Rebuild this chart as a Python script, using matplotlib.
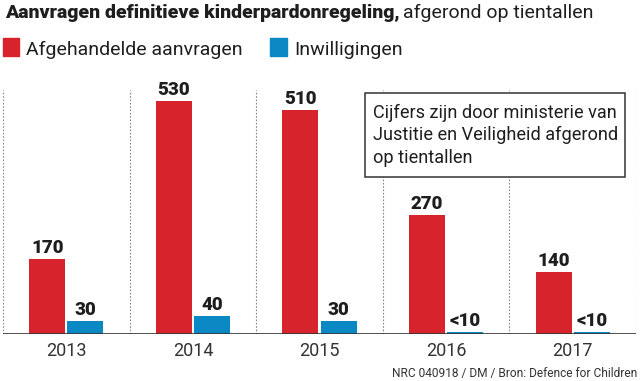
import numpy as np
import matplotlib.pyplot as plt
from matplotlib.patches import Rectangle

plt.rcParams['font.family'] = ['Roboto', 'DejaVu Sans']

years = ['2013', '2014', '2015', '2016', '2017']
afgehandeld = [170, 530, 510, 270, 140]
inwilligingen = [30, 40, 30, 5, 5]
label_red = ['170', '530', '510', '270', '140']
label_blue = ['30', '40', '30', '<10', '<10']

red = '#d7232b'
blue = '#0a88c4'
ink = '#1e1e1e'

W, H = 640, 381
fig = plt.figure(figsize=(6.4, 3.81), dpi=100)
ax = fig.add_axes([3 / W, 47 / H, 633 / W, 244 / H])


def fy(py):
    # pixel from top -> figure fraction
    return 1 - py / H


x = np.arange(len(years))
w = 0.285
gap = 0.016
ax.bar(x - w / 2 - gap / 2, afgehandeld, w, color=red)
ax.bar(x + w / 2 + gap / 2, inwilligingen, w, color=blue)

for i in range(len(years)):
    ax.annotate(label_red[i], (x[i] - w / 2 - gap / 2, afgehandeld[i]),
                xytext=(0, 4.5), textcoords='offset points',
                ha='center', va='baseline', fontsize=13.5, fontweight='heavy', color=ink)
    ax.annotate(label_blue[i], (x[i] + w / 2 + gap / 2, inwilligingen[i]),
                xytext=(0, 4.5), textcoords='offset points',
                ha='center', va='baseline', fontsize=13.5, fontweight='heavy', color=ink)

for b in np.arange(-0.5, len(years), 1):
    ax.axvline(b, color='#888888', lw=0.8, ls=(0, (1.5, 1.5)), zorder=0)

ax.axhline(0, color='#333333', lw=1.2)
ax.set_xlim(-0.5, len(years) - 0.5)
ax.set_ylim(0, 555)
ax.set_yticks([])
ax.set_xticks(x)
ax.set_xticklabels(years, fontsize=13, color='#333333')
ax.tick_params(axis='x', length=0, pad=6)
for s in ax.spines.values():
    s.set_visible(False)

# titel
fig.text(5 / W, fy(17.5), 'Aanvragen definitieve kinderpardonregeling,', fontsize=14,
         fontweight='heavy', color=ink, va='baseline', ha='left')
fig.text(403 / W, fy(17.5), 'afgerond op tientallen', fontsize=14,
         color=ink, va='baseline', ha='left')

# legenda
fig.patches.append(Rectangle((3 / W, fy(56)), 16 / W, 18 / H,
                             color=red, transform=fig.transFigure))
fig.text(26 / W, fy(55), 'Afgehandelde aanvragen', fontsize=14,
         color=ink, va='baseline', ha='left')
fig.patches.append(Rectangle((270 / W, fy(56)), 17 / W, 18 / H,
                             color=blue, transform=fig.transFigure))
fig.text(294 / W, fy(55), 'Inwilligingen', fontsize=14,
         color=ink, va='baseline', ha='left')

# kader
fig.patches.append(Rectangle((365 / W, fy(177)), 260 / W, 84 / H, fc='white',
                             ec='#333333', lw=1.1, transform=fig.transFigure, zorder=5))
box_lines = ['Cijfers zijn door ministerie van', 'Justitie en Veiligheid afgerond', 'op tientallen']
for k, line in enumerate(box_lines):
    fig.text(373 / W, fy(118 + 22.5 * k), line, fontsize=13.1, color=ink,
             va='baseline', ha='left', zorder=6)

fig.text(637 / W, fy(374), 'NRC 040918 / DM / Bron: Defence for Children',
         fontsize=8.6, color='#333333', va='center', ha='right')

fig.savefig('out.png', dpi=100)
